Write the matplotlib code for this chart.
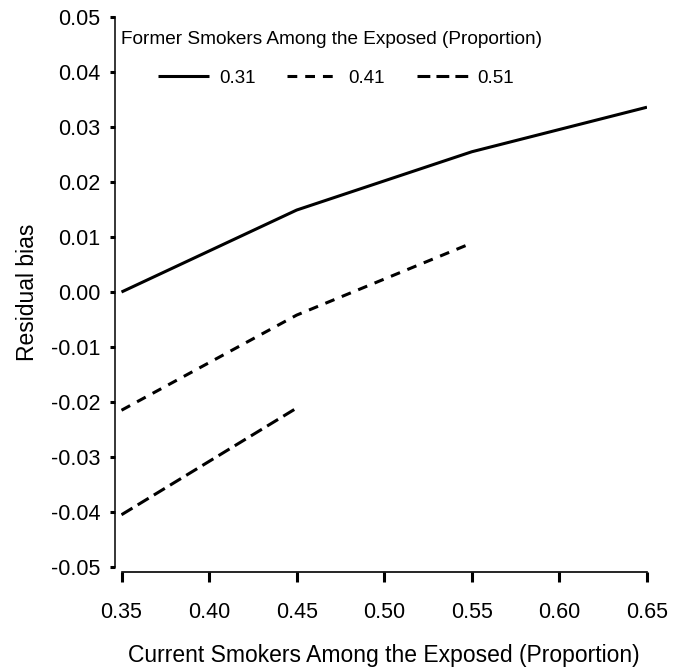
import matplotlib.pyplot as plt

plt.rcParams['font.family'] = ['Liberation Sans', 'DejaVu Sans']

# Current smokers proportion (x) and residual bias for each former-smoker level
x_031 = [0.35, 0.45, 0.55, 0.65]
bias_031 = [0.0000, 0.0149, 0.0255, 0.0336]

x_041 = [0.35, 0.45, 0.55]
bias_041 = [-0.0215, -0.0042, 0.0089]

x_051 = [0.35, 0.45]
bias_051 = [-0.0405, -0.0211]

xticks = [0.35, 0.40, 0.45, 0.50, 0.55, 0.60, 0.65]
yticks = [-0.05, -0.04, -0.03, -0.02, -0.01, 0.00, 0.01, 0.02, 0.03, 0.04, 0.05]

W, H = 685, 667
fig = plt.figure(figsize=(W / 100, H / 100), dpi=100)
ax = fig.add_axes([121.5 / W, 1 - 567 / H, (647 - 121.5) / W, (567 - 17) / H])

lw = 2.2
ax.plot(x_031, bias_031, color='black', lw=lw, solid_capstyle='butt', label='0.31')
ax.plot(x_041, bias_041, color='black', lw=lw, dashes=(3.2, 2.6), label='0.41')
ax.plot(x_051, bias_051, color='black', lw=lw, dashes=(4.2, 2.0), label='0.51')

ax.set_xlim(0.35, 0.65)
ax.set_ylim(-0.05, 0.05)
ax.set_xticks(xticks)
ax.set_xticklabels([f'{v:.2f}' for v in xticks])
ax.set_yticks(yticks)
ax.set_yticklabels([f'{v:.2f}' for v in yticks])

for s in ['top', 'right']:
    ax.spines[s].set_visible(False)
ax.spines['left'].set_position(('outward', 4.8))
ax.spines['bottom'].set_position(('outward', 3.6))
ax.spines['left'].set_linewidth(1.1)
ax.spines['bottom'].set_linewidth(1.2)
ax.tick_params(axis='y', length=3.6, width=2.2, labelsize=15.5, pad=7)
ax.tick_params(axis='x', length=7, width=2.2, labelsize=15.5, pad=14.5)

ax.set_xlabel('Current Smokers Among the Exposed (Proportion)', fontsize=16.5, labelpad=15)
ax.set_ylabel('Residual bias', fontsize=16.5, labelpad=8)

# legend title sits further left than the entries
fig.text(121 / W, 1 - 39 / H, 'Former Smokers Among the Exposed (Proportion)',
         fontsize=13.7, ha='left', va='center')
ax.legend(ncol=3, loc='center left', bbox_to_anchor=(158 / W, 1 - 78 / H),
          bbox_transform=fig.transFigure, frameon=False, borderpad=0,
          borderaxespad=0, fontsize=13.5, handlelength=2.72,
          columnspacing=1.7, handletextpad=0.53)

fig.savefig('out.png', dpi=100)
